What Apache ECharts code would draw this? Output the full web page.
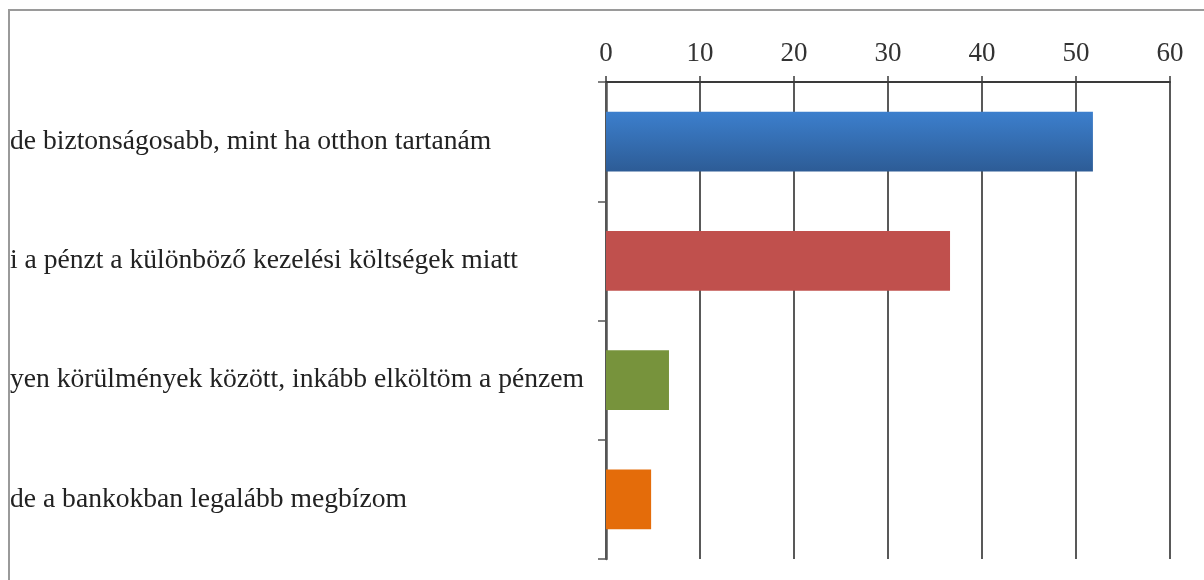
<!DOCTYPE html>
<html>
<head>
<meta charset="utf-8">
<script src="https://cdn.jsdelivr.net/npm/echarts@6/dist/echarts.min.js"></script>
<style>
  html, body { margin: 0; padding: 0; background: #fff; }
  #frame { position: absolute; left: 0; top: 0; width: 1204px; height: 580px; }
  #edge { position: absolute; left: 8px; top: 9px; width: 1196px; height: 571px;
          border-top: 2px solid #9a9a9a; border-left: 2px solid #9a9a9a; box-sizing: border-box; }
  #chart { position: absolute; left: 0; top: 0; width: 1204px; height: 580px; }
</style>
</head>
<body>
<div id="frame">
  <div id="edge"></div>
  <div id="chart"></div>
</div>
<script>
// kategoriak (a bal oldalon levagott szoveggel, ahogy a kepen)
var categories = [
  'de biztonságosabb, mint ha otthon tartanám',
  'i a pénzt a különböző kezelési költségek miatt',
  'yen körülmények között, inkább elköltöm a pénzem',
  'de a bankokban legalább megbízom'
];
var values = [51.8, 36.6, 6.7, 4.8];
var tickMin = 0, tickMax = 60, tickStep = 10;

var barColors = [
  new echarts.graphic.LinearGradient(0, 0, 0, 1, [
    {offset: 0, color: '#3c7fcd'},
    {offset: 1, color: '#2d5c96'}
  ]),
  '#c0504d',
  '#77933c',
  '#e46c0a'
];

var chart = echarts.init(document.getElementById('chart'));
var font = '"Liberation Serif", "DejaVu Serif", serif';

var option = {
  animation: false,
  grid: {
    left: 606,
    right: 34,
    top: 82,
    bottom: 21
  },
  xAxis: {
    type: 'value',
    position: 'top',
    min: tickMin,
    max: tickMax,
    interval: tickStep,
    axisLine: {show: true, lineStyle: {color: '#3a3a3a', width: 2}},
    axisTick: {show: true, length: 6, lineStyle: {color: '#3a3a3a', width: 1.5}},
    axisLabel: {
      margin: 15,
      color: '#333',
      fontSize: 27,
      fontFamily: font
    },
    splitLine: {show: true, lineStyle: {color: '#222', width: 1.5}}
  },
  yAxis: {
    type: 'category',
    inverse: true,
    data: categories,
    axisLine: {show: true, lineStyle: {color: '#555', width: 2.5}},
    axisTick: {show: true, length: 8, lineStyle: {color: '#555', width: 1.5}},
    axisLabel: {
      align: 'left',
      margin: 596,
      color: '#222',
      fontSize: 27.6,
      fontFamily: font
    },
    splitLine: {show: false}
  },
  series: [
    {
      type: 'bar',
      barCategoryGap: '50%',
      data: values.map(function (v, i) {
        return {value: v, itemStyle: {color: barColors[i]}};
      })
    }
  ]
};
chart.setOption(option);
</script>
</body>
</html>
